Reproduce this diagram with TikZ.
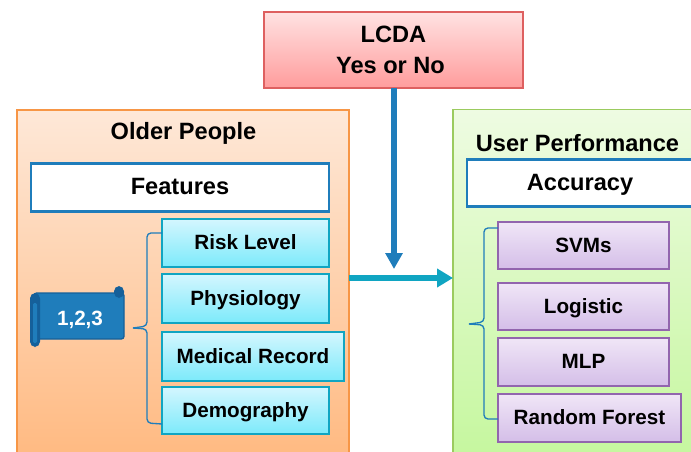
\documentclass[tikz,border=0pt]{standalone}
\usepackage{fontspec}
\setmainfont{Liberation Sans}
\usetikzlibrary{shadows,arrows.meta}
\definecolor{blueline}{HTML}{1F7DBB}
\definecolor{tealline}{HTML}{10A5C2}
\definecolor{scrolldark}{HTML}{15609A}
\tikzset{
  x=0.75pt,y=-0.75pt,
  size/.style 2 args={minimum width=#1*0.75pt,minimum height=#2*0.75pt,inner sep=0pt,outer sep=0pt},
  lab/.style={font=\bfseries\fontsize{15.5}{19}\selectfont,text=black,text height=11pt,text depth=1.2pt},
  biglab/.style={font=\bfseries\fontsize{17.7}{21}\selectfont,text=black,text height=12.8pt,text depth=1.8pt},
  shad/.style={drop shadow={shadow xshift=0.8pt,shadow yshift=-1pt,opacity=.3}},
  redbox/.style={draw={rgb,255:red,222;green,96;blue,96},line width=1pt,top color={rgb,255:red,255;green,226;blue,226},bottom color={rgb,255:red,255;green,156;blue,156},shad},
  orangepanel/.style={draw={rgb,255:red,247;green,150;blue,70},line width=1pt,top color={rgb,255:red,254;green,232;blue,216},bottom color={rgb,255:red,255;green,184;blue,126}},
  greenpanel/.style={draw={rgb,255:red,155;green,203;blue,95},line width=1.2pt,top color={rgb,255:red,238;green,251;blue,226},bottom color={rgb,255:red,196;green,247;blue,156}},
  whitebox/.style={biglab,draw=blueline,line width=2pt,fill=white},
  cyanbox/.style={lab,draw=tealline,line width=1.2pt,top color={rgb,255:red,212;green,246;blue,254},bottom color={rgb,255:red,124;green,234;blue,251},shad},
  purplebox/.style={lab,draw={rgb,255:red,146;green,101;blue,174},line width=1.2pt,top color={rgb,255:red,240;green,230;blue,247},bottom color={rgb,255:red,212;green,190;blue,232},shad},
  bracel/.style={line width=1pt,rounded corners=3pt},
  bluearrow/.style={draw=blueline,line width=4.4pt,-{Triangle[length=12pt,width=12.5pt,fill=blueline]}},
  tealarrow/.style={draw=tealline,line width=4.4pt,-{Triangle[length=12pt,width=13.5pt,fill=tealline]}},
  title/.style={font=\bfseries\fontsize{17.7}{21}\selectfont,text=black,inner sep=0pt,anchor=base},
  scrolltext/.style={font=\bfseries\fontsize{15.5}{19}\selectfont,text=white,inner sep=0pt,anchor=base},
}
\begin{document}
\begin{tikzpicture}
\useasboundingbox (0,0) rectangle (691,452);
\clip (0,0) rectangle (691,452);
\fill[white] (0,0) rectangle (691,452);
% panels
\node[orangepanel,size={332}{360}] (older) at (183,290) {};
\node[greenpanel,size={300}{361}] (user) at (603,290) {};
\node[title] (oldertitle) at (183.5,139.5) {Older People};
\node[title] (usertitle) at (577.5,151.7) {User Performance};
\node[whitebox,size={298}{48}] (features) at (180,187.5) {Features};
\node[whitebox,size={226}{47}] (accuracy) at (580,183) {Accuracy};
% LCDA
\node[redbox,size={259}{76}] (lcda) at (393.5,50) {};
\node[title] (lcdaa) at (393.5,42.7) {LCDA};
\node[title] (lcdab) at (390.5,74) {Yes or No};
% feature boxes
\node[cyanbox,size={167}{48}] (risk) at (245.5,243) {Risk Level};
\node[cyanbox,size={167}{49}] (phys) at (245.5,298.5) {Physiology};
\node[cyanbox,size={182}{49}] (med) at (253,356.5) {Medical Record};
\node[cyanbox,size={167}{47}] (demo) at (245.5,410.5) {Demography};
% model boxes
\node[purplebox,size={171}{47}] (svm) at (583.5,245.5) {SVMs};
\node[purplebox,size={171}{47}] (logi) at (583.5,306.5) {Logistic};
\node[purplebox,size={171}{48}] (mlp) at (583.5,362) {MLP};
\node[purplebox,size={183}{48}] (rf) at (589.5,418) {Random Forest};
% scroll
\fill[blueline,draw=scrolldark,line width=1pt,rounded corners=2pt] (34,293) rectangle (124,339);
\fill[scrolldark,rounded corners=4pt] (114,286) rectangle (124,298);
\fill[scrolldark,rounded corners=4pt] (30,293) rectangle (40,347);
\fill[blueline,rounded corners=1pt] (33,303) rectangle (37,343);
\node[scrolltext] (num) at (80,325) {1,2,3};
% braces
\coordinate (bl) at (133,328);
\draw[bracel,blueline] (risk.west|-0,233) -- (147,233) -- (147,326) -- (bl);
\draw[bracel,blueline] (bl) -- (147,329) -- (147,423) -- (demo.west|-0,424);
\coordinate (br) at (469,324);
\draw[bracel,blueline] (svm.west|-0,228) -- (484,228) -- (484,322) -- (br);
\draw[bracel,blueline] (br) -- (484,325) -- (484,419) -- (rf.west|-0,419);
% arrows
\coordinate (joinv) at (394,269);
\draw[bluearrow] (lcda.south-|joinv) -- (joinv);
\draw[tealarrow] (older.east|-0,278) -- (user.west|-0,278);
\end{tikzpicture}
\end{document}
